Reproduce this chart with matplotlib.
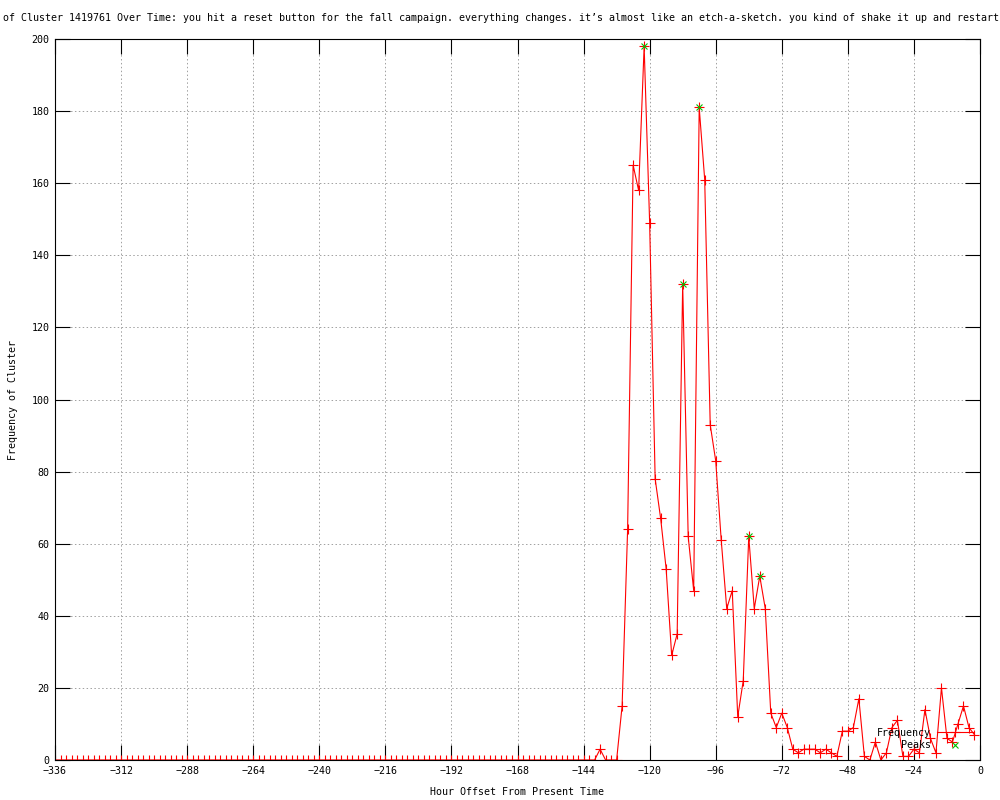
import matplotlib
matplotlib.use("Agg")
import matplotlib.pyplot as plt

plt.rcParams['font.family'] = ['DejaVu Sans Mono']

# hourly bins, every 2 hours from -336 to -2
hours = list(range(-336, 0, 2))
freq_tail = [3, 0, 0, 0, 15, 64, 165, 158, 198, 149, 78, 67, 53, 29, 35, 132,
             62, 47, 181, 161, 93, 83, 61, 42, 47, 12, 22, 62, 42, 51, 42, 13,
             9, 13, 9, 3, 2, 3, 3, 3, 2, 3, 2, 1, 8, 8, 9, 17, 1, 0, 5, 0, 2,
             9, 11, 1, 1, 3, 2, 14, 6, 2, 20, 6, 5, 10, 15, 9, 7]
freq = [0] * (len(hours) - len(freq_tail)) + freq_tail

peak_hours = [-122, -108, -102, -84, -80]
peak_vals = [198, 132, 181, 62, 51]

title = ("of Cluster 1419761 Over Time: you hit a reset button for the fall campaign. "
         "everything changes. it\u2019s almost like an etch-a-sketch. "
         "you kind of shake it up and restart")

fig = plt.figure(figsize=(10, 8), dpi=100)
ax = fig.add_axes([0.055, 0.05, 0.925, 0.90125])

ax.plot(hours, freq, color='red', lw=0.8, marker='+', ms=6.5, mew=0.8,
        label='Frequency')
ax.plot(peak_hours, peak_vals, ls='none', marker='x', color='#00c000',
        ms=5, mew=0.8, label='Peaks')

ax.set_xlim(-336, 0)
ax.set_ylim(0, 200)
ax.set_xticks(range(-336, 1, 24))
ax.set_yticks(range(0, 201, 20))
ax.tick_params(direction='in', length=11, width=0.8, top=True, right=True,
               labelsize=7.2, pad=4)
ax.grid(True, color='#a0a0a0', lw=0.7, linestyle=(0, (1.5, 2.5)))
for s in ax.spines.values():
    s.set_linewidth(0.8)

ax.legend(loc='lower right', bbox_to_anchor=(0.9935, 0.0135), frameon=False,
          markerfirst=False, fontsize=7.2, handlelength=3.7, handletextpad=0.6,
          labelspacing=0.25, borderpad=0, borderaxespad=0)

fig.text(0.501, 1 - 18 / 800, title, ha='center', va='center', fontsize=7.2)
fig.text(0.013, 0.5, 'Frequency of Cluster', rotation=90, ha='center',
         va='center', fontsize=7.2)
fig.text(0.5175, 0.01, 'Hour Offset From Present Time', ha='center',
         va='center', fontsize=7.2)

fig.savefig('out.png', dpi=100)
